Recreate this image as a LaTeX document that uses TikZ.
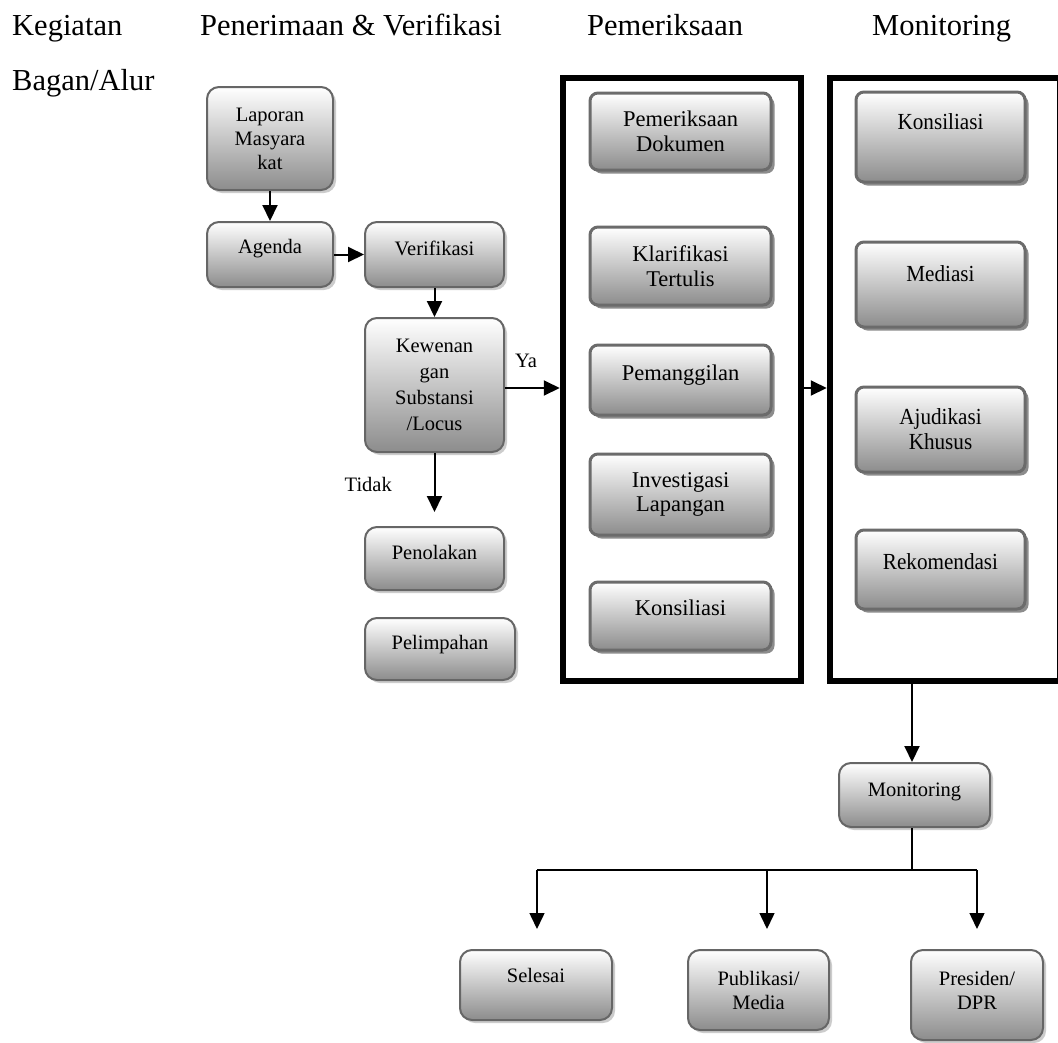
\documentclass[tikz,border=0pt]{standalone}
\usepackage{fontspec}
\setmainfont{Liberation Serif}
\newfontfamily\condfont{Liberation Serif}[FakeStretch=0.92]
\usetikzlibrary{arrows.meta,shadows}
\tikzset{
  hdr/.style={font=\fontsize{30.5}{36}\selectfont, anchor=base west, inner sep=0pt},
  small/.style={font=\fontsize{20.5}{24}\selectfont, inner sep=0pt},
  ltxt/.style={font=\fontsize{20.5}{24}\selectfont, align=center, inner sep=0pt},
  ftxt/.style={font=\fontsize{22.5}{24.5}\selectfont, align=center, inner sep=0pt},
  mtxt/.style={font=\condfont\fontsize{23}{25}\selectfont, align=center, inner sep=0pt},
  lbox/.style={draw=black!60, line width=2pt, rounded corners=12pt,
    top color=white, bottom color=black!45,
    drop shadow={shadow xshift=3pt, shadow yshift=-3pt, fill=black!20, opacity=1},
    inner sep=0pt, align=center, font=\fontsize{20.5}{24}\selectfont},
  fbox/.style={draw=black!58, line width=3pt, rounded corners=8pt,
    top color=white, bottom color=black!45,
    drop shadow={shadow xshift=3.5pt, shadow yshift=-3.5pt, fill=black!45, opacity=1},
    inner sep=0pt, align=center, font=\fontsize{22.5}{24.5}\selectfont},
  mbox/.style={fbox, font=\condfont\fontsize{23}{25}\selectfont},
  frame/.style={draw=black, line width=6.5pt, inner sep=0pt},
  arr/.style={line width=2pt, -{Triangle[width=15pt,length=16pt]}},
  tline/.style={line width=1.5pt},
  tarr/.style={line width=1.5pt, -{Triangle[width=15pt,length=16pt]}},
}
\begin{document}
\begin{tikzpicture}[x=1pt,y=-1pt]
\useasboundingbox[fill=white] (0,0) rectangle (1058,1042);

% headers
\node[hdr] (h1) at (12,35) {Kegiatan};
\node[hdr] (h2) at (200,35) {Penerimaan \& Verifikasi};
\node[hdr] (h3) at (587,35) {Pemeriksaan};
\node[hdr] (h4) at (872,35) {Monitoring};
\node[hdr] (h5) at (12,90) {Bagan/Alur};

% left column
\node[lbox, minimum width=126pt, minimum height=103pt] (lap) at (270,138.5) {Laporan\\Masyara\\kat};
\node[lbox, minimum width=126pt, minimum height=65pt, label={[ltxt,yshift=6pt]center:Agenda}] (agd) at (270,254.5) {};
\node[lbox, minimum width=139pt, minimum height=65pt, label={[ltxt,yshift=6pt]center:Verifikasi}] (ver) at (434.5,254.5) {};
\node[lbox, minimum width=139pt, minimum height=134pt, font=\fontsize{20.5}{26}\selectfont] (kew) at (434.5,385) {Kewenan\\gan\\Substansi\\/Locus};
\node[lbox, minimum width=139pt, minimum height=63pt, label={[ltxt,yshift=6pt]center:Penolakan}] (pen) at (434.5,558.5) {};
\node[lbox, minimum width=150pt, minimum height=62pt, label={[ltxt,yshift=4pt]center:Pelimpahan}] (pel) at (440,649) {};

% frames
\node[frame, minimum width=238pt, minimum height=603pt] (f1) at (682,379.5) {};
\node[frame, minimum width=230pt, minimum height=603pt] (f2) at (945,379.5) {};

% Pemeriksaan boxes
\node[fbox, minimum width=181pt, minimum height=77pt] (pd) at (680.5,131.5) {Pemeriksaan\\Dokumen};
\node[fbox, minimum width=181pt, minimum height=78pt] (kt) at (680.5,266) {Klarifikasi\\Tertulis};
\node[fbox, minimum width=181pt, minimum height=70pt, label={[ftxt,yshift=5pt]center:Pemanggilan}] (pm) at (680.5,380) {};
\node[fbox, minimum width=181pt, minimum height=81pt] (il) at (680.5,494.5) {Investigasi\\Lapangan};
\node[fbox, minimum width=181pt, minimum height=68pt, label={[ftxt,yshift=8pt]center:Konsiliasi}] (ko1) at (680.5,616) {};

% Monitoring boxes
\node[mbox, minimum width=169pt, minimum height=90pt, label={[mtxt,yshift=15pt]center:Konsiliasi}] (ko2) at (940.5,137) {};
\node[mbox, minimum width=169pt, minimum height=85pt, label={[mtxt,yshift=11pt]center:Mediasi}] (me) at (940.5,284.5) {};
\node[mbox, minimum width=169pt, minimum height=85pt] (aj) at (940.5,429.5) {Ajudikasi\\Khusus};
\node[mbox, minimum width=169pt, minimum height=79pt, label={[mtxt,yshift=7.5pt]center:Rekomendasi}] (re) at (940.5,569.5) {};

% bottom
\node[lbox, minimum width=151pt, minimum height=64pt, label={[ltxt,yshift=3pt]center:Monitoring}] (mon) at (914.5,795) {};
\node[lbox, minimum width=152pt, minimum height=70pt, label={[ltxt,yshift=10pt]center:Selesai}] (sel) at (536,985) {};
\node[lbox, minimum width=141pt, minimum height=80pt] (pub) at (758.5,990) {Publikasi/\\Media};
\node[lbox, minimum width=132pt, minimum height=90pt, label={[ltxt,yshift=5pt]center:Presiden/\\DPR}] (pre) at (977,995) {};

% labels
\node[small, anchor=base west] (ya) at (515,367) {Ya};
\node[small, anchor=base east] (td) at (392,491) {Tidak};

% connectors
\coordinate (yl) at (0,388);
\coordinate (tid) at (434.5,512);
\coordinate (mx) at (912,0);
\draw[arr] (lap) -- (agd);
\draw[arr] (agd) -- (ver);
\draw[arr] (ver) -- (kew);
\draw[arr] (kew) -- (tid);
\draw[arr] (kew.east |- yl) -- (f1.west |- yl);
\draw[arr] (f1.east |- yl) -- (f2.west |- yl);
\draw[arr] (mx |- f2.south) -- (mx |- mon.north);

\coordinate (br) at (912,870);
\coordinate (b1) at (537,870);
\coordinate (b2) at (767,870);
\coordinate (b3) at (977,870);
\draw[tline] (mx |- mon.south) -- (br);
\draw[tline] (b1) -- (b3);
\draw[tarr, shorten >=20pt] (b1) -- (b1 |- sel.north);
\draw[tarr, shorten >=20pt] (b2) -- (b2 |- pub.north);
\draw[tarr, shorten >=20pt] (b3) -- (b3 |- pre.north);
\end{tikzpicture}
\end{document}
